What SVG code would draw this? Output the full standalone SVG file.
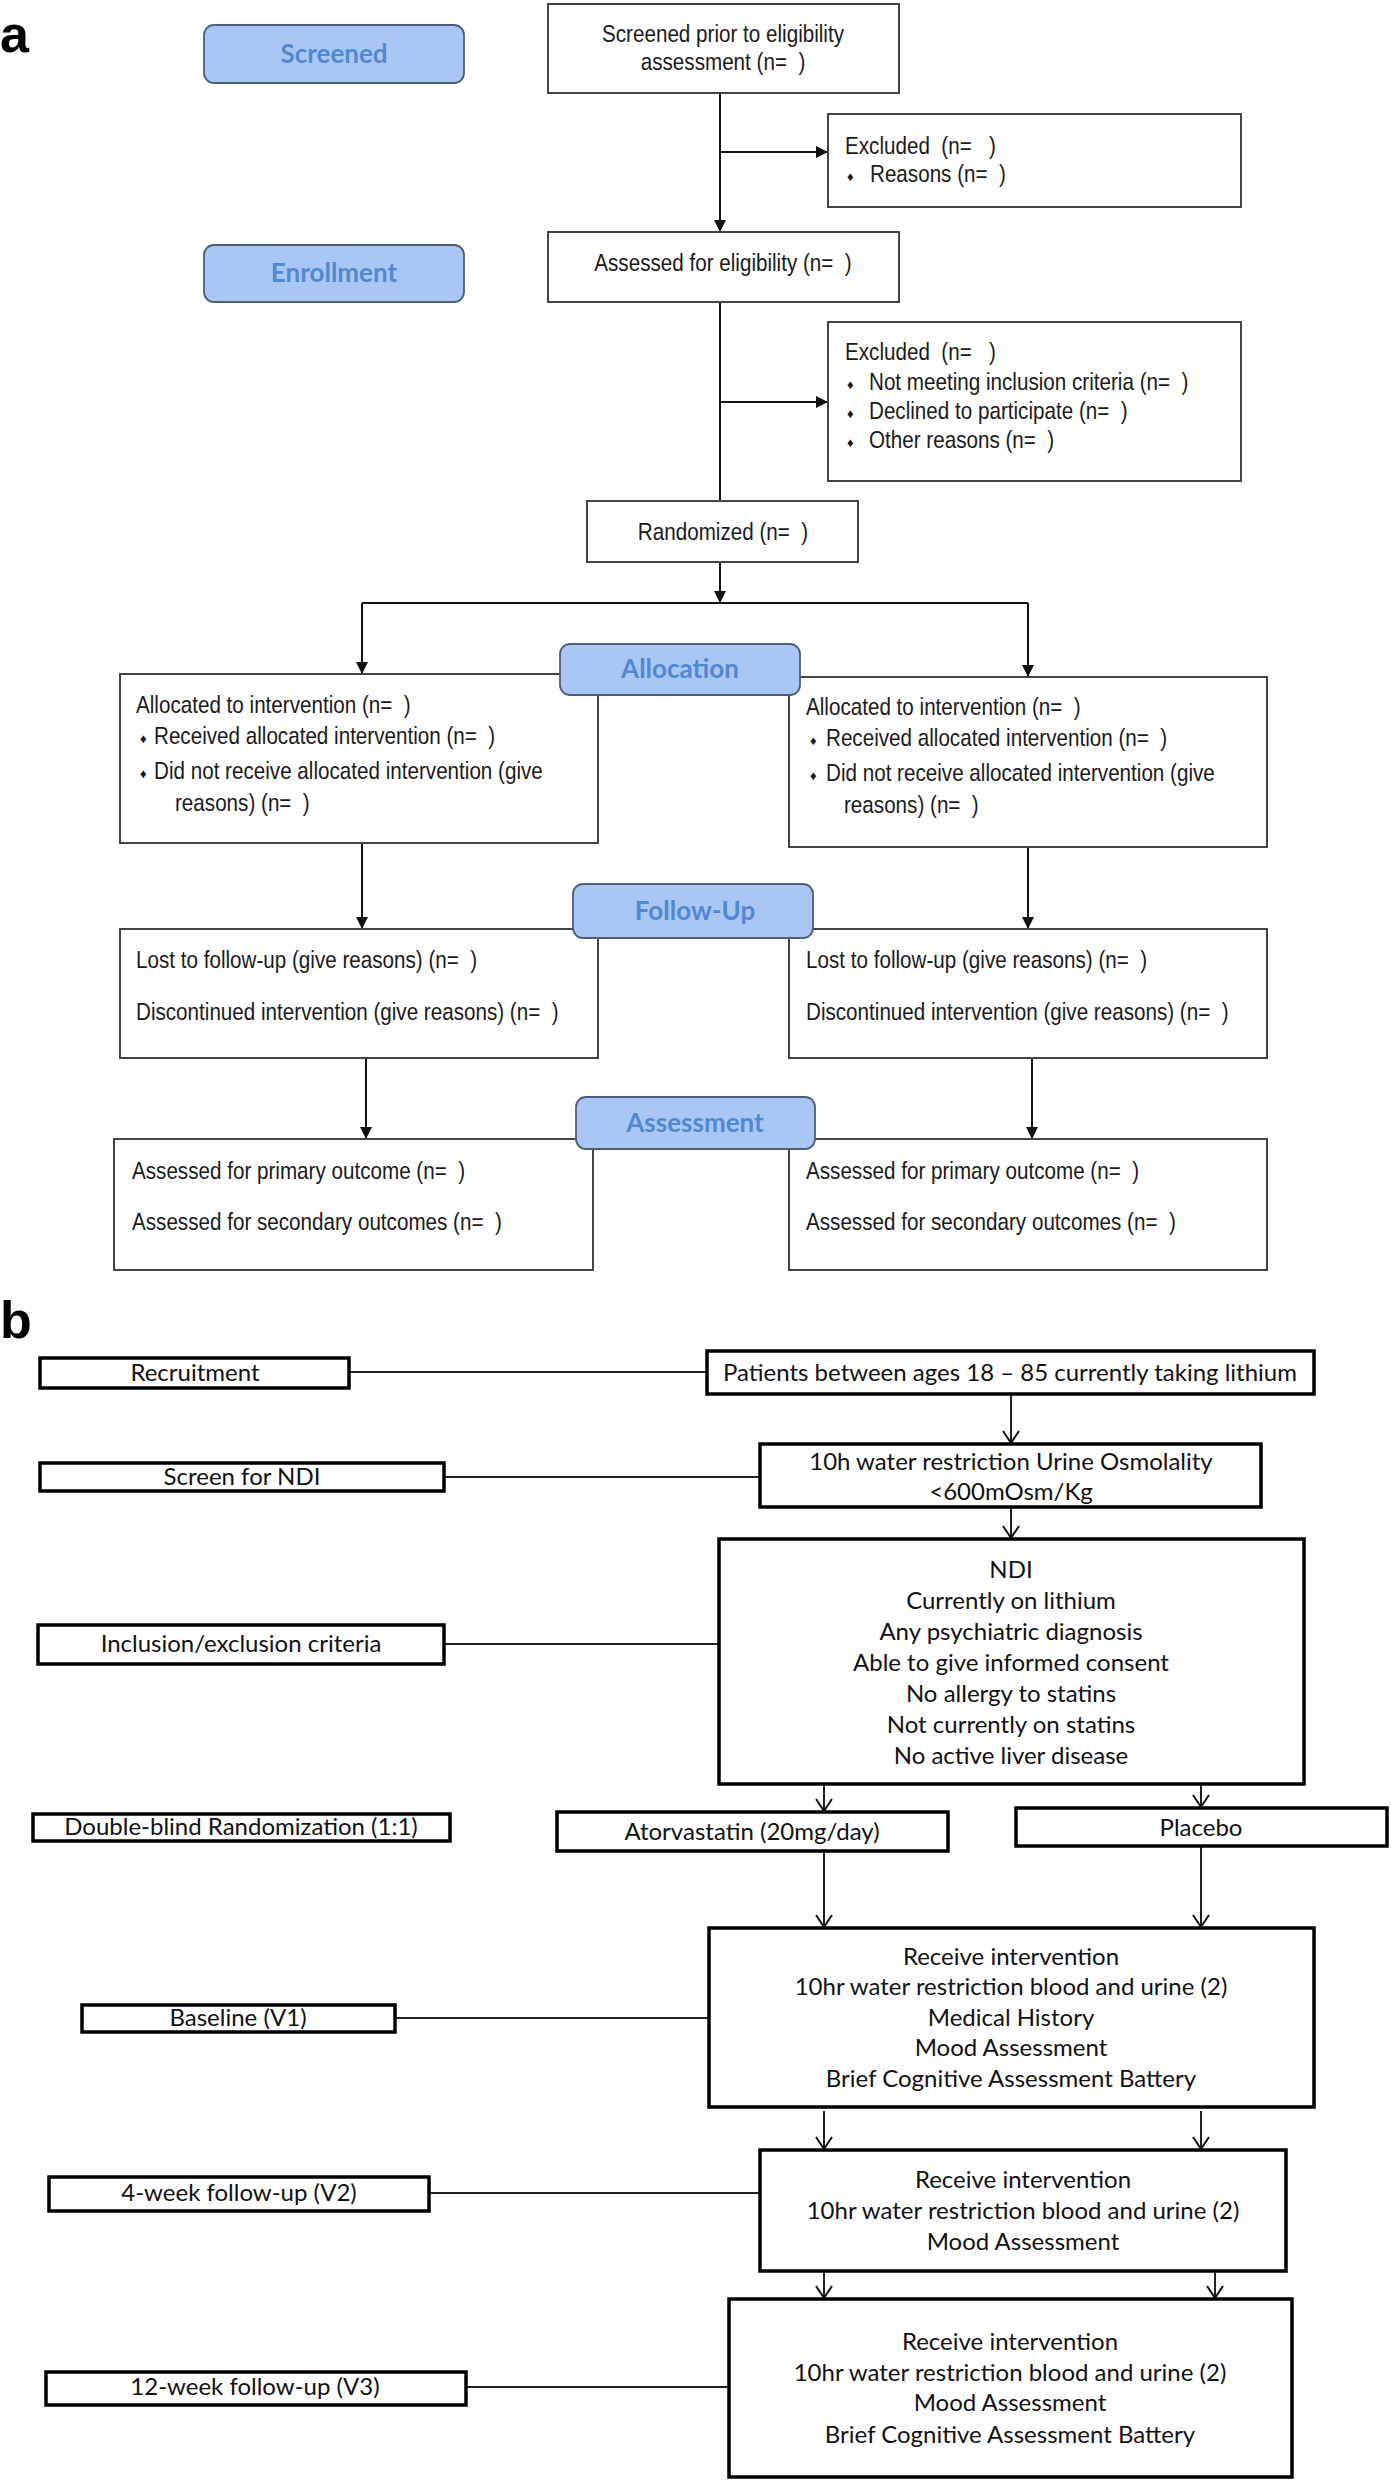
<svg xmlns="http://www.w3.org/2000/svg" width="1391" height="2481" viewBox="0 0 1391 2481">
<style>
 .box{fill:#fff;stroke:#444;stroke-width:2}
 .pill{fill:#a9c7f5;stroke:#4d5e78;stroke-width:1.8}
 .pt{font-family:Lato,"Liberation Sans",sans-serif;font-size:26px;font-weight:700;fill:#5288d0;text-anchor:middle}
 .ta{font-family:"Liberation Sans",Arial,sans-serif;font-size:24px;fill:#1a1a1a;white-space:pre}
 .tac{text-anchor:middle}
 .bul{font-family:"Liberation Sans","DejaVu Sans",sans-serif;font-size:13px;fill:#1a1a1a}
 .lab{font-family:"Liberation Sans",Arial,sans-serif;font-size:52px;font-weight:700;fill:#000}
 .bb{fill:#fff;stroke:#000;stroke-width:3.5}
 .tb{font-family:Lato,"Liberation Sans",sans-serif;font-size:24px;fill:#111;text-anchor:middle}
 .ca{stroke:#111;stroke-width:2;fill:none}
 .cb{stroke:#222;stroke-width:2;fill:none}
</style>
<defs>
 <marker id="ah" markerUnits="userSpaceOnUse" markerWidth="12" markerHeight="12" viewBox="0 0 12 12" refX="12" refY="6" orient="auto"><path d="M0,0 L12,6 L0,12 z" fill="#111"/></marker>
 <marker id="av" markerUnits="userSpaceOnUse" markerWidth="16" markerHeight="20" viewBox="-2 -10 16 20" refX="12" refY="0" orient="auto"><path d="M0,-8 L12,0 L0,8" fill="none" stroke="#111" stroke-width="2"/></marker>
</defs>
<rect x="0" y="0" width="1391" height="2481" fill="#fff"/>

<text class="lab" x="0" y="52">a</text>
<text class="lab" x="0" y="1338">b</text>

<g id="connectors">
 <path class="ca" d="M720,93 V232" marker-end="url(#ah)"/>
 <path class="ca" d="M720,152 H828" marker-end="url(#ah)"/>
 <path class="ca" d="M720,302 V501"/>
 <path class="ca" d="M720,402 H828" marker-end="url(#ah)"/>
 <path class="ca" d="M720,562 V603" marker-end="url(#ah)"/>
 <path class="ca" d="M362,603 H1028"/>
 <path class="ca" d="M362,603 V674" marker-end="url(#ah)"/>
 <path class="ca" d="M1028,603 V677" marker-end="url(#ah)"/>
 <path class="ca" d="M362,843 V929" marker-end="url(#ah)"/>
 <path class="ca" d="M1028,847 V929" marker-end="url(#ah)"/>
 <path class="ca" d="M366,1058 V1139" marker-end="url(#ah)"/>
 <path class="ca" d="M1032,1058 V1139" marker-end="url(#ah)"/>

 <path class="cb" d="M349,1372 H707"/>
 <path class="cb" d="M444,1477 H760"/>
 <path class="cb" d="M444,1644 H719"/>
 <path class="cb" d="M395,2018 H709"/>
 <path class="cb" d="M429,2193 H760"/>
 <path class="cb" d="M466,2387 H729"/>
 <path class="cb" d="M1011,1394 V1443" marker-end="url(#av)"/>
 <path class="cb" d="M1011,1507 V1538" marker-end="url(#av)"/>
 <path class="cb" d="M824,1784 V1811" marker-end="url(#av)"/>
 <path class="cb" d="M1201,1784 V1807" marker-end="url(#av)"/>
 <path class="cb" d="M824,1851 V1927" marker-end="url(#av)"/>
 <path class="cb" d="M1201,1846 V1927" marker-end="url(#av)"/>
 <path class="cb" d="M824,2111 V2149" marker-end="url(#av)"/>
 <path class="cb" d="M1201,2111 V2149" marker-end="url(#av)"/>
 <path class="cb" d="M824,2271 V2298" marker-end="url(#av)"/>
 <path class="cb" d="M1215,2271 V2298" marker-end="url(#av)"/>
</g>

<g id="n-screened-prior">
 <rect class="box" x="548" y="4" width="351" height="89"/>
 <text class="ta tac" transform="translate(723 42) scale(0.86 1)">Screened prior to eligibility</text>
 <text class="ta tac" transform="translate(723 70) scale(0.86 1)">assessment (n=  )</text>
</g>
<g id="n-excluded1">
 <rect class="box" x="828" y="114" width="413" height="93"/>
 <text class="ta" transform="translate(845 154) scale(0.86 1)">Excluded  (n=   )</text>
 <text class="bul" x="847" y="181">♦</text>
 <text class="ta" transform="translate(870 182) scale(0.86 1)">Reasons (n=  )</text>
</g>
<g id="n-assessed">
 <rect class="box" x="548" y="232" width="351" height="70"/>
 <text class="ta tac" transform="translate(723 271) scale(0.86 1)">Assessed for eligibility (n=  )</text>
</g>
<g id="n-excluded2">
 <rect class="box" x="828" y="322" width="413" height="159"/>
 <text class="ta" transform="translate(845 360) scale(0.86 1)">Excluded  (n=   )</text>
 <text class="bul" x="847" y="389">♦</text>
 <text class="ta" transform="translate(869 390) scale(0.86 1)">Not meeting inclusion criteria (n=  )</text>
 <text class="bul" x="847" y="418">♦</text>
 <text class="ta" transform="translate(869 419) scale(0.86 1)">Declined to participate (n=  )</text>
 <text class="bul" x="847" y="447">♦</text>
 <text class="ta" transform="translate(869 448) scale(0.86 1)">Other reasons (n=  )</text>
</g>
<g id="n-randomized">
 <rect class="box" x="587" y="501" width="271" height="61"/>
 <text class="ta tac" transform="translate(723 540) scale(0.86 1)">Randomized (n=  )</text>
</g>
<g id="n-alloc-left">
 <rect class="box" x="120" y="674" width="478" height="169"/>
 <text class="ta" transform="translate(136 713) scale(0.86 1)">Allocated to intervention (n=  )</text>
 <text class="bul" x="140" y="743">♦</text>
 <text class="ta" transform="translate(154 744) scale(0.86 1)">Received allocated intervention (n=  )</text>
 <text class="bul" x="140" y="778">♦</text>
 <text class="ta" transform="translate(154 779) scale(0.86 1)">Did not receive allocated intervention (give</text>
 <text class="ta" transform="translate(175 811) scale(0.86 1)">reasons) (n=  )</text>
</g>
<g id="n-alloc-right">
 <rect class="box" x="789" y="677" width="478" height="170"/>
 <text class="ta" transform="translate(806 715) scale(0.86 1)">Allocated to intervention (n=  )</text>
 <text class="bul" x="810" y="745">♦</text>
 <text class="ta" transform="translate(826 746) scale(0.86 1)">Received allocated intervention (n=  )</text>
 <text class="bul" x="810" y="780">♦</text>
 <text class="ta" transform="translate(826 781) scale(0.86 1)">Did not receive allocated intervention (give</text>
 <text class="ta" transform="translate(844 813) scale(0.86 1)">reasons) (n=  )</text>
</g>
<g id="n-follow-left">
 <rect class="box" x="120" y="929" width="478" height="129"/>
 <text class="ta" transform="translate(136 968) scale(0.86 1)">Lost to follow-up (give reasons) (n=  )</text>
 <text class="ta" transform="translate(136 1020) scale(0.86 1)">Discontinued intervention (give reasons) (n=  )</text>
</g>
<g id="n-follow-right">
 <rect class="box" x="789" y="929" width="478" height="129"/>
 <text class="ta" transform="translate(806 968) scale(0.86 1)">Lost to follow-up (give reasons) (n=  )</text>
 <text class="ta" transform="translate(806 1020) scale(0.86 1)">Discontinued intervention (give reasons) (n=  )</text>
</g>
<g id="n-assess-left">
 <rect class="box" x="114" y="1139" width="479" height="131"/>
 <text class="ta" transform="translate(132 1179) scale(0.86 1)">Assessed for primary outcome (n=  )</text>
 <text class="ta" transform="translate(132 1230) scale(0.86 1)">Assessed for secondary outcomes (n=  )</text>
</g>
<g id="n-assess-right">
 <rect class="box" x="789" y="1139" width="478" height="131"/>
 <text class="ta" transform="translate(806 1179) scale(0.86 1)">Assessed for primary outcome (n=  )</text>
 <text class="ta" transform="translate(806 1230) scale(0.86 1)">Assessed for secondary outcomes (n=  )</text>
</g>

<g id="p-screened"><rect class="pill" x="204" y="25" width="260" height="58" rx="10"/><text class="pt" x="334" y="63">Screened</text></g>
<g id="p-enrollment"><rect class="pill" x="204" y="245" width="260" height="57" rx="10"/><text class="pt" x="334" y="282">Enrollment</text></g>
<g id="p-allocation"><rect class="pill" x="560" y="644" width="240" height="51" rx="10"/><text class="pt" x="680" y="678">Allocation</text></g>
<g id="p-followup"><rect class="pill" x="573" y="884" width="240" height="54" rx="10"/><text class="pt" x="695" y="920">Follow-Up</text></g>
<g id="p-assessment"><rect class="pill" x="576" y="1097" width="239" height="52" rx="10"/><text class="pt" x="695" y="1132">Assessment</text></g>

<g id="l-recruitment"><rect class="bb" x="40" y="1358" width="309" height="30"/><text class="tb" x="195" y="1381">Recruitment</text></g>
<g id="l-screen"><rect class="bb" x="40" y="1463" width="404" height="28"/><text class="tb" x="242" y="1485">Screen for NDI</text></g>
<g id="l-inclusion"><rect class="bb" x="38" y="1625" width="406" height="39"/><text class="tb" x="241" y="1652">Inclusion/exclusion criteria</text></g>
<g id="l-randomization"><rect class="bb" x="33" y="1814" width="417" height="27"/><text class="tb" x="241" y="1835">Double-blind Randomization (1:1)</text></g>
<g id="l-baseline"><rect class="bb" x="82" y="2005" width="313" height="27"/><text class="tb" x="238" y="2026">Baseline (V1)</text></g>
<g id="l-4week"><rect class="bb" x="49" y="2177" width="380" height="34"/><text class="tb" x="239" y="2201">4-week follow-up (V2)</text></g>
<g id="l-12week"><rect class="bb" x="46" y="2372" width="420" height="33"/><text class="tb" x="255" y="2395">12-week follow-up (V3)</text></g>

<g id="n-patients"><rect class="bb" x="707" y="1351" width="607" height="43"/><text class="tb" x="1010" y="1381">Patients between ages 18 – 85 currently taking lithium</text></g>
<g id="n-water"><rect class="bb" x="760" y="1444" width="501" height="63"/><text class="tb" x="1011" y="1470">10h water restriction Urine Osmolality</text><text class="tb" x="1011" y="1500">&lt;600mOsm/Kg</text></g>
<g id="n-ndi"><rect class="bb" x="719" y="1539" width="585" height="245"/>
 <text class="tb" x="1011" y="1578">NDI</text>
 <text class="tb" x="1011" y="1609">Currently on lithium</text>
 <text class="tb" x="1011" y="1640">Any psychiatric diagnosis</text>
 <text class="tb" x="1011" y="1671">Able to give informed consent</text>
 <text class="tb" x="1011" y="1702">No allergy to statins</text>
 <text class="tb" x="1011" y="1733">Not currently on statins</text>
 <text class="tb" x="1011" y="1764">No active liver disease</text>
</g>
<g id="n-atorvastatin"><rect class="bb" x="557" y="1812" width="391" height="39"/><text class="tb" x="752" y="1840">Atorvastatin (20mg/day)</text></g>
<g id="n-placebo"><rect class="bb" x="1016" y="1808" width="371" height="38"/><text class="tb" x="1201" y="1836">Placebo</text></g>
<g id="n-v1"><rect class="bb" x="709" y="1928" width="605" height="179"/>
 <text class="tb" x="1011" y="1965">Receive intervention</text>
 <text class="tb" x="1011" y="1995">10hr water restriction blood and urine (2)</text>
 <text class="tb" x="1011" y="2026">Medical History</text>
 <text class="tb" x="1011" y="2056">Mood Assessment</text>
 <text class="tb" x="1011" y="2087">Brief Cognitive Assessment Battery</text>
</g>
<g id="n-v2"><rect class="bb" x="760" y="2150" width="526" height="121"/>
 <text class="tb" x="1023" y="2188">Receive intervention</text>
 <text class="tb" x="1023" y="2219">10hr water restriction blood and urine (2)</text>
 <text class="tb" x="1023" y="2250">Mood Assessment</text>
</g>
<g id="n-v3"><rect class="bb" x="729" y="2299" width="563" height="178"/>
 <text class="tb" x="1010" y="2350">Receive intervention</text>
 <text class="tb" x="1010" y="2381">10hr water restriction blood and urine (2)</text>
 <text class="tb" x="1010" y="2411">Mood Assessment</text>
 <text class="tb" x="1010" y="2443">Brief Cognitive Assessment Battery</text>
</g>
</svg>
